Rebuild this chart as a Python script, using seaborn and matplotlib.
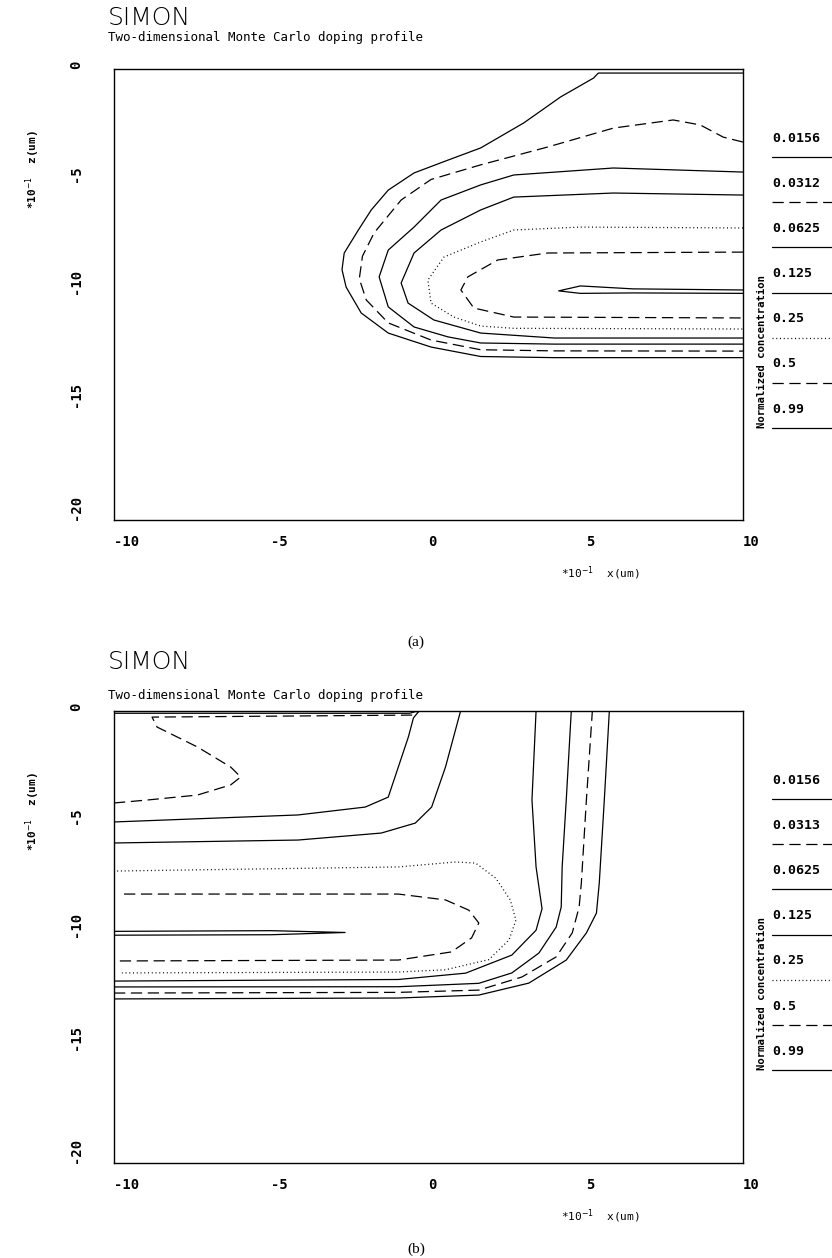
import matplotlib
matplotlib.use("Agg")
import matplotlib.pyplot as plt
from matplotlib.lines import Line2D
import seaborn as sns

# Niveis de concentracao normalizada (legenda de cada painel)
levels_a = ["0.0156", "0.0312", "0.0625", "0.125", "0.25", "0.5", "0.99"]
levels_b = ["0.0156", "0.0313", "0.0625", "0.125", "0.25", "0.5", "0.99"]
level_styles = ["solid", "dashed", "solid", "solid", "dotted", "dashed", "solid"]

x_ticks = [-10, -5, 0, 5, 10]
z_ticks = [0, -5, -10, -15, -20]

# Painel (a): curvas de nivel (x e z em 0.1 um)
a_0156_x = [10.0, 5.40, 5.25, 4.20, 3.03, 1.66, 0.62, -0.46, -1.28, -1.82, -2.23, -2.68, -2.75, -2.62, -2.14, -1.28, 0.08, 1.66, 4.00, 10.0]
a_0156_z = [-0.18, -0.18, -0.40, -1.24, -2.39, -3.50, -4.04, -4.61, -5.37, -6.25, -7.14, -8.16, -8.90, -9.67, -10.82, -11.71, -12.33, -12.75, -12.80, -12.80]
a_0312_x = [10.0, 9.37, 8.64, 7.78, 5.88, 3.79, 1.66, 0.08, -0.87, -1.73, -2.10, -2.20, -1.98, -1.28, 0.08, 1.66, 4.00, 10.0]
a_0312_z = [-3.24, -3.02, -2.48, -2.26, -2.62, -3.46, -4.25, -4.90, -5.81, -7.27, -8.30, -9.30, -10.24, -11.26, -12.02, -12.45, -12.50, -12.51]
a_0625_x = [10.0, 5.88, 2.71, 1.66, 0.40, -0.46, -1.28, -1.57, -1.28, -0.46, 0.62, 1.66, 4.00, 10.0]
a_0625_z = [-4.57, -4.39, -4.70, -5.14, -5.81, -7.01, -8.03, -9.22, -10.55, -11.44, -11.88, -12.15, -12.20, -12.20]
a_0125_x = [10.0, 5.88, 2.71, 1.66, 0.40, -0.46, -0.87, -0.65, 0.17, 1.66, 4.00, 10.0]
a_0125_z = [-5.59, -5.50, -5.68, -6.25, -7.14, -8.16, -9.49, -10.38, -11.13, -11.71, -11.93, -11.93]
a_025_x = [10.0, 4.83, 2.71, 1.66, 0.49, -0.02, 0.08, 0.81, 1.66, 2.71, 10.0]
a_025_z = [-7.05, -7.01, -7.14, -7.67, -8.34, -9.36, -10.38, -11.00, -11.40, -11.50, -11.53]
a_05_x = [10.0, 3.79, 2.20, 1.25, 1.03, 1.44, 2.71, 10.0]
a_05_z = [-8.12, -8.16, -8.47, -9.22, -9.80, -10.60, -11.00, -11.04]
a_099_x = [10.0, 6.50, 4.83, 4.14, 4.83, 6.50, 10.0]
a_099_z = [-9.80, -9.75, -9.62, -9.84, -9.95, -9.93, -9.95]

# Painel (b)
b_0156_top_x = [-10.0, -0.60, -0.35]
b_0156_top_z = [-0.10, -0.10, 0.0]
b_0156_x = [-10.0, -0.96, 1.60, 3.19, 4.38, 5.02, 5.34, 5.43, 5.59, 5.75]
b_0156_z = [-12.74, -12.70, -12.57, -12.04, -11.02, -9.82, -8.94, -7.61, -3.94, 0.0]
b_0313_top_x = [-10.0, -8.95, -7.35, -6.29, -5.97, -6.29, -7.35, -8.63, -8.79, -0.45, -0.30]
b_0313_top_z = [-4.07, -3.94, -3.72, -3.27, -2.92, -2.48, -1.59, -0.71, -0.27, -0.18, 0.0]
b_0313_x = [-10.0, -0.96, 1.60, 2.97, 4.06, 4.57, 4.79, 4.86, 5.02, 5.21]
b_0313_z = [-12.48, -12.45, -12.35, -11.77, -10.88, -9.82, -8.67, -7.61, -3.94, 0.0]
b_0625_top_x = [-10.0, -4.15, -2.01, -1.28, -0.96, -0.64, -0.48, -0.30]
b_0625_top_z = [-4.91, -4.60, -4.25, -3.81, -2.48, -1.15, -0.31, 0.0]
b_0625_x = [-10.0, -0.96, 1.60, 2.65, 3.51, 4.06, 4.22, 4.25, 4.38, 4.54]
b_0625_z = [-12.21, -12.20, -12.05, -11.59, -10.71, -9.56, -8.67, -6.90, -3.94, 0.0]
b_0125_top_x = [-10.0, -4.15, -1.50, -0.42, 0.10, 0.54, 1.02]
b_0125_top_z = [-5.84, -5.71, -5.40, -4.96, -4.25, -2.48, 0.0]
b_0125_x = [-10.0, -0.96, 1.18, 2.65, 3.42, 3.61, 3.42, 3.29, 3.42]
b_0125_z = [-11.95, -11.88, -11.60, -10.80, -9.70, -8.75, -6.90, -3.93, 0.0]
b_025_x = [-9.90, -0.96, 0.86, 1.50, 2.14, 2.60, 2.78, 2.56, 1.92, 0.54, -0.96, -9.75]
b_025_z = [-7.08, -6.90, -6.68, -6.73, -7.40, -8.36, -9.25, -10.13, -11.00, -11.45, -11.55, -11.59]
b_05_x = [-9.68, -0.96, 0.54, 1.28, 1.60, 1.37, 0.73, -0.96, -9.84]
b_05_z = [-8.10, -8.10, -8.36, -8.81, -9.38, -10.04, -10.66, -11.02, -11.06]
b_099_x = [-10.0, -5.0, -2.65, -5.0, -10.0]
b_099_z = [-9.75, -9.72, -9.80, -9.90, -9.92]

# (nivel, x, z) para cada painel
curves_a = [(0, a_0156_x, a_0156_z), (1, a_0312_x, a_0312_z), (2, a_0625_x, a_0625_z),
            (3, a_0125_x, a_0125_z), (4, a_025_x, a_025_z), (5, a_05_x, a_05_z),
            (6, a_099_x, a_099_z)]
curves_b = [(0, b_0156_top_x, b_0156_top_z), (0, b_0156_x, b_0156_z),
            (1, b_0313_top_x, b_0313_top_z), (1, b_0313_x, b_0313_z),
            (2, b_0625_top_x, b_0625_top_z), (2, b_0625_x, b_0625_z),
            (3, b_0125_top_x, b_0125_top_z), (3, b_0125_x, b_0125_z),
            (4, b_025_x, b_025_z), (5, b_05_x, b_05_z), (6, b_099_x, b_099_z)]

sns.set_theme(style="white")
plt.rcParams["font.family"] = ["DejaVu Sans Mono"]
plt.rcParams["mathtext.fontset"] = "dejavusans"
plt.rcParams["text.color"] = "black"
plt.rcParams["axes.labelcolor"] = "black"
plt.rcParams["xtick.color"] = "black"
plt.rcParams["ytick.color"] = "black"

W, H = 832, 1258
dash_map = {"solid": "-", "dashed": (0, (9, 4.5)), "dotted": (0, (0.8, 2.2))}


def fx(px):
    return px / W


def fy(py):
    return 1 - py / H


fig = plt.figure(figsize=(W / 100, H / 100), dpi=100)


def draw_panel(top, bottom, curves, levels, title_y, sub_y, tag, tag_y):
    left, right = 114, 743
    ax = fig.add_axes([fx(left), fy(bottom), (right - left) / W, (bottom - top) / H])
    for lev, xs, zs in curves:
        sns.lineplot(x=xs, y=zs, sort=False, estimator=None, color="black",
                     lw=0.9, linestyle=dash_map[level_styles[lev]], ax=ax)
    ax.set_xlim(-10, 10)
    ax.set_ylim(-20, 0)
    ax.set_xticks(x_ticks)
    ax.set_xticklabels([str(t) for t in x_ticks], ha="left")
    ax.set_yticks(z_ticks)
    ax.set_yticklabels([str(t) for t in z_ticks], rotation=90, va="bottom")
    for lab in ax.get_xticklabels() + ax.get_yticklabels():
        lab.set_fontweight("bold")
    ax.tick_params(axis="y", direction="inout", length=21, width=1.0, pad=12,
                   labelsize=10, colors="black")
    ax.tick_params(axis="x", direction="inout", length=16, width=1.0, pad=3,
                   labelsize=10, colors="black")
    for s in ax.spines.values():
        s.set_color("black")
        s.set_linewidth(1.0)
    ax.set_xlabel("")
    ax.set_ylabel("")

    # titulos
    fig.text(fx(108), fy(title_y), "SIMON", fontsize=18, family="DejaVu Sans",
             fontweight="light", color="black", ha="left", va="center")
    fig.text(fx(108), fy(sub_y), "Two-dimensional Monte Carlo doping profile",
             fontsize=9, color="black", ha="left", va="center")

    # rotulos dos eixos
    fig.text(fx(600), fy(bottom + 53), r"*10$^{-1}$  x(um)", fontsize=8,
             ha="center", va="center")
    fig.text(fx(33), fy(top + 101), r"*10$^{-1}$  z(um)", fontsize=8,
             fontweight="bold", rotation=90, ha="center", va="center")

    # legenda manual
    for k, (lab, st) in enumerate(zip(levels, level_styles)):
        fig.text(fx(772), fy(top + 69 + 45.2 * k), lab, fontsize=9.5,
                 fontweight="bold", ha="left", va="center")
        yl = fy(top + 88 + 45.2 * k)
        fig.add_artist(Line2D([fx(772), fx(835)], [yl, yl], color="black",
                              lw=0.9, linestyle=dash_map[st]))
    fig.text(fx(762), fy(top + 283), "Normalized concentration", fontsize=7.7,
             fontweight="bold", rotation=90, ha="center", va="center")

    fig.text(fx(416), fy(tag_y), tag, family="Liberation Serif", fontsize=11,
             ha="center", va="center")
    return ax


draw_panel(69, 520, curves_a, levels_a, 18, 37, "(a)", 642)
draw_panel(711, 1163, curves_b, levels_b, 662, 695, "(b)", 1249)

fig.savefig("out.png", dpi=100)
